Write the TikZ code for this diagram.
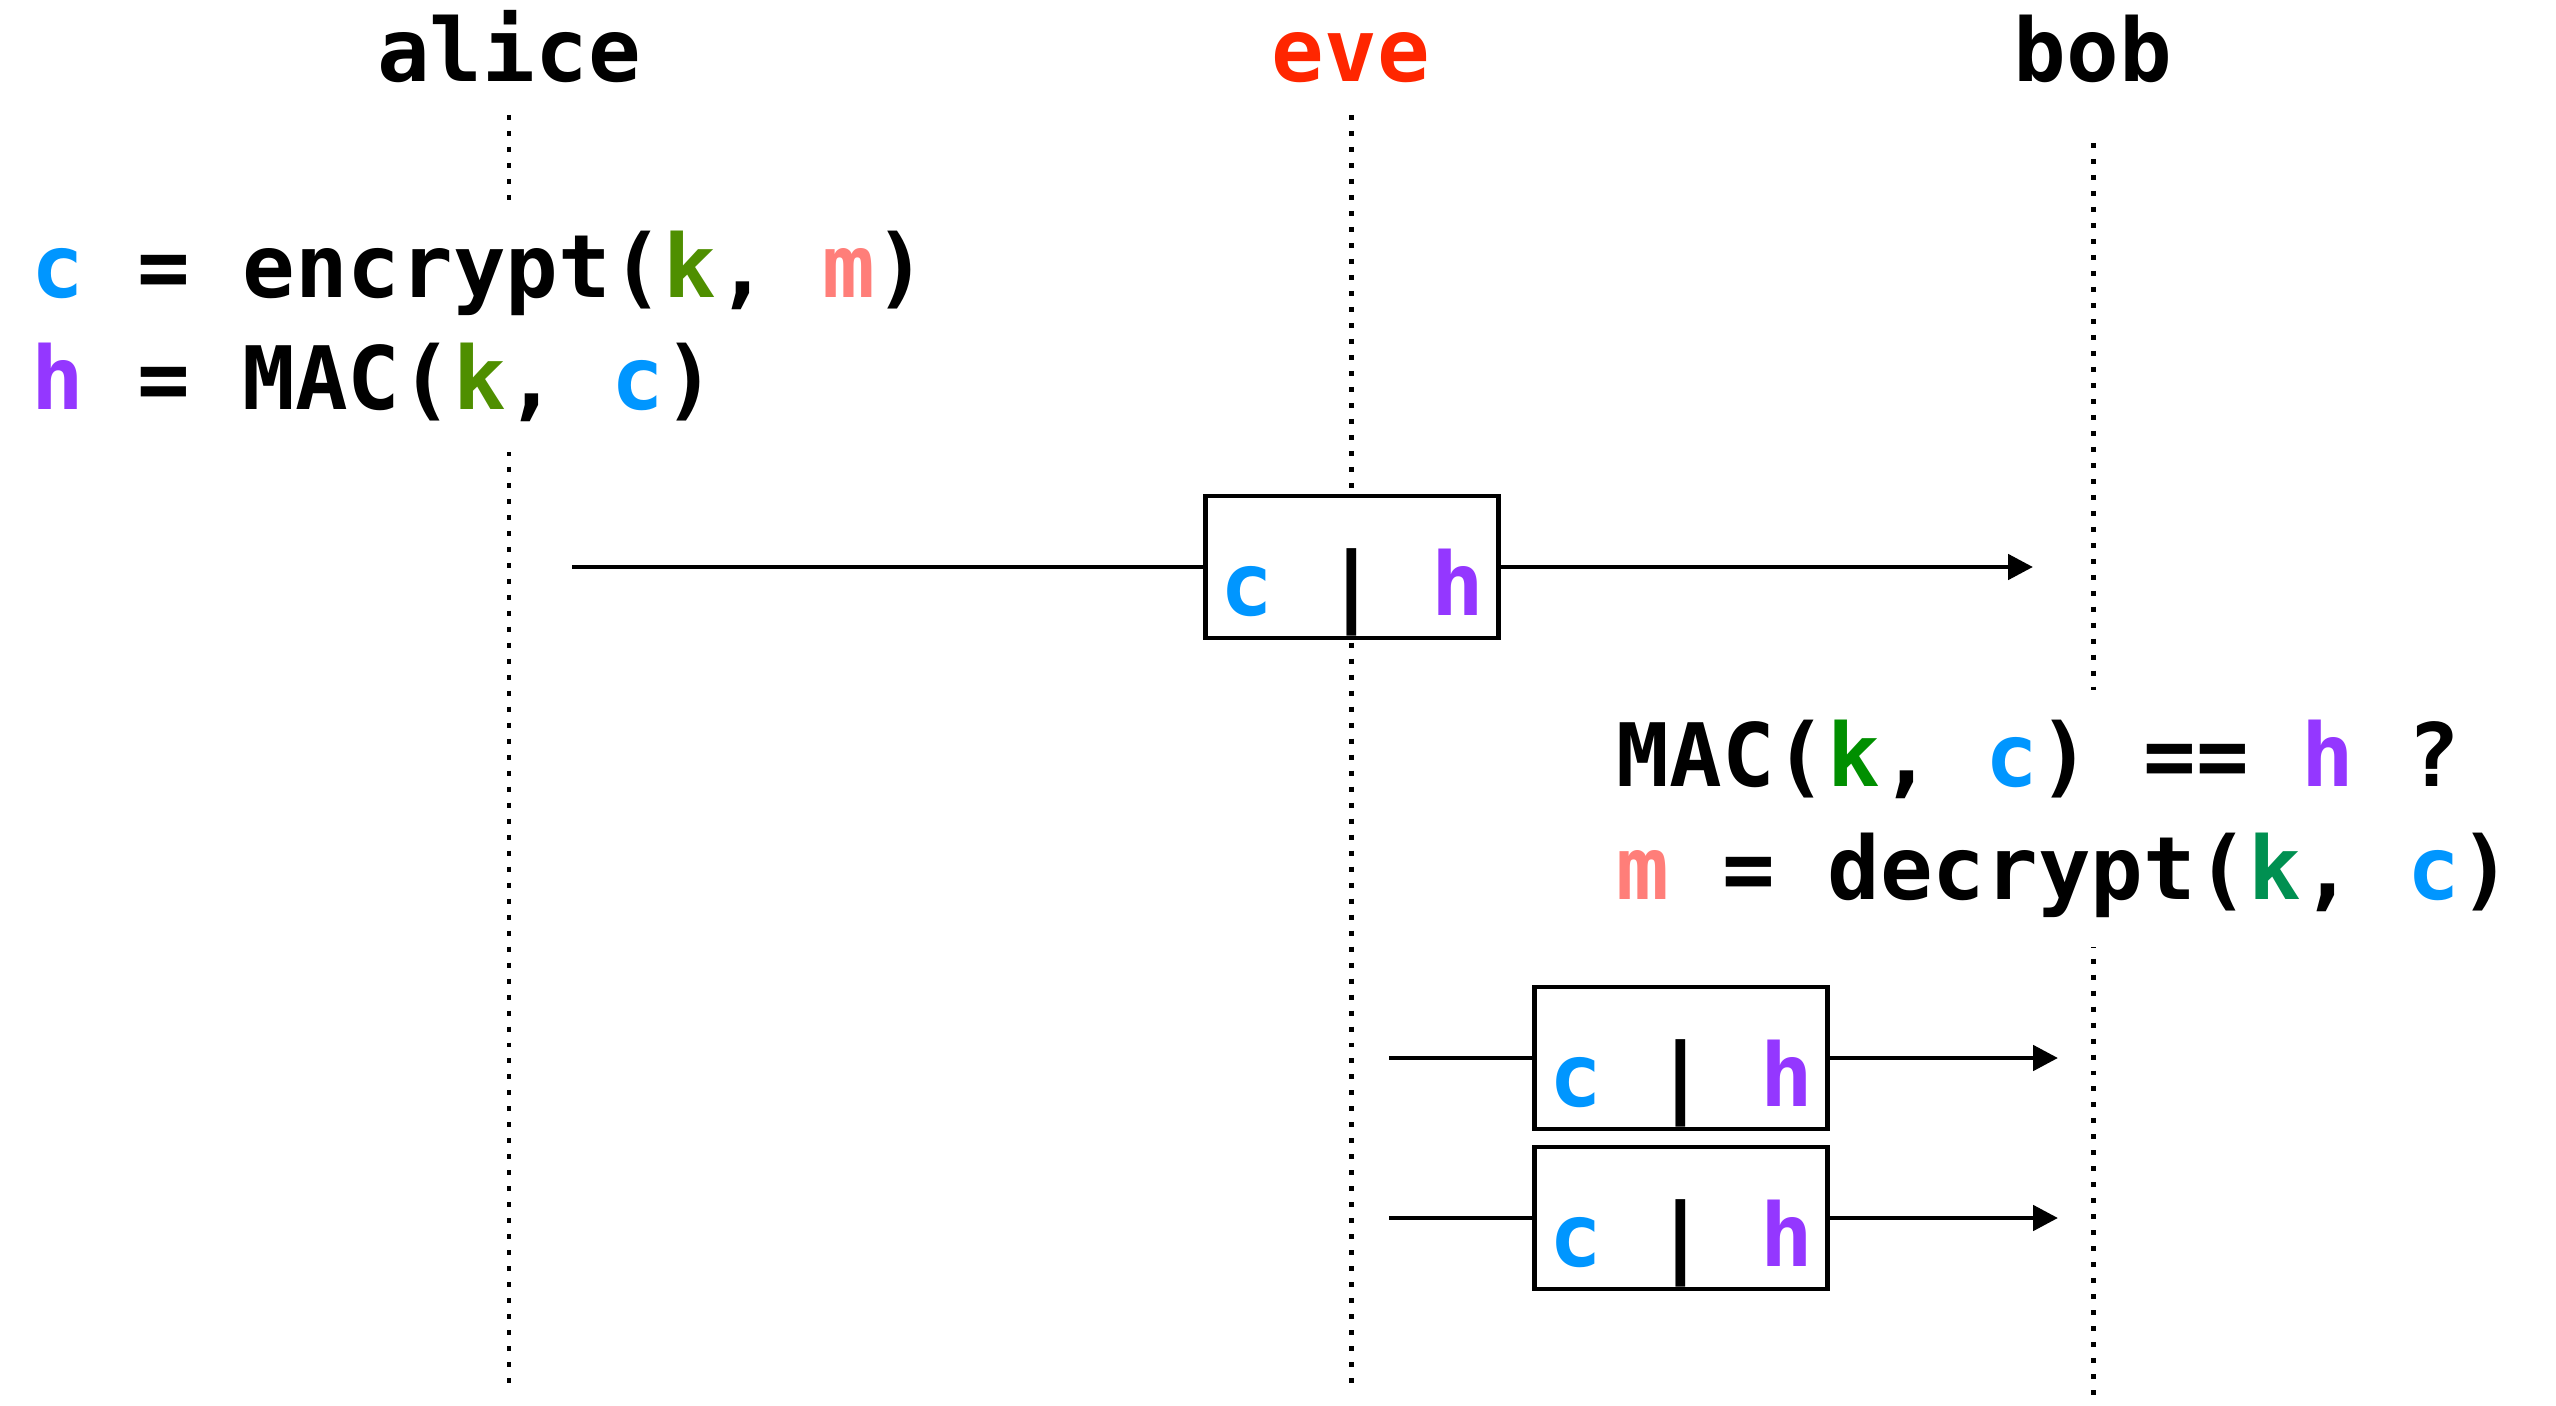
\documentclass[tikz,border=0pt]{standalone}
\usepackage{fontspec}
\setmainfont{DejaVu Sans Mono}[WordSpace={1,0,0}]
\usetikzlibrary{arrows.meta}
\frenchspacing

\definecolor{aqua}{RGB}{0,150,255}
\definecolor{grape}{RGB}{148,55,255}
\definecolor{fern}{RGB}{79,143,0}
\definecolor{clover}{RGB}{0,143,0}
\definecolor{moss}{RGB}{0,144,81}
\definecolor{salmon}{RGB}{255,126,121}
\definecolor{maraschino}{RGB}{255,38,0}

\newcommand{\cvar}{\textcolor{aqua}{c}}
\newcommand{\hvar}{\textcolor{grape}{h}}

\tikzset{
  party/.style={anchor=base},
  lifeline/.style={line width=1.42pt, dash pattern=on 1.42pt off 3.13pt},
  msg/.style={line width=1.42pt},
  packet/.style={draw, line width=1.42pt, fill=white, inner sep=0pt,
    minimum width=2.93cm, text height=1.195cm, text depth=0.225cm},
  code/.style={align=left, fill=white, inner xsep=0pt, inner ysep=0.3cm,
    anchor=base west},
}

\begin{document}
\begin{tikzpicture}[x=1cm, y=-1cm, font=\fontsize{24.9}{32}\selectfont\bfseries]
  \useasboundingbox (0,0) rectangle (25.56,14.06);

  % parties
  \node[party] (alice) at (5.09,0.82) {alice};
  \node[party, text=maraschino] (eve) at (13.51,0.82) {eve};
  \node[party] (bob) at (20.93,0.82) {bob};

  % lifelines
  \coordinate (alice top) at (5.09,1.15);
  \coordinate (alice end) at (5.09,13.85);
  \coordinate (eve top) at (13.51,1.15);
  \coordinate (eve end) at (13.51,13.85);
  \coordinate (bob top) at (20.93,1.43);
  \coordinate (bob end) at (20.93,14.03);
  \begin{scope}[lifeline]
    \draw (alice top) -- (alice end);
    \draw (eve top) -- (eve end);
    \draw (bob top) -- (bob end);
  \end{scope}

  % what each side computes (base = last line)
  \node[code] (send) at (0.31,4.10)
    {\cvar{} = encrypt(\textcolor{fern}{k}, \textcolor{salmon}{m})\\
     \hvar{} = MAC(\textcolor{fern}{k}, \cvar)};
  \node[code] (check) at (16.16,8.99)
    {MAC(\textcolor{clover}{k}, \cvar) == \hvar{} ?\\
     \textcolor{salmon}{m} = decrypt(\textcolor{moss}{k}, \cvar)};

  % messages
  \node[packet] (pkt1) at (13.52,5.67) {\cvar{} | \hvar};
  \node[packet] (pkt2) at (16.81,10.58) {\cvar{} | \hvar};
  \node[packet] (pkt3) at (16.81,12.18) {\cvar{} | \hvar};
  \coordinate (from1) at (5.72,5.67);
  \coordinate (to1) at (20.33,5.67);
  \coordinate (from2) at (13.89,10.58);
  \coordinate (to2) at (20.58,10.58);
  \coordinate (from3) at (13.89,12.18);
  \coordinate (to3) at (20.58,12.18);
  \begin{scope}[msg]
    \draw (from1) -- (pkt1);
    \draw[-{Triangle[length=0.25cm,width=0.25cm]}] (pkt1) -- (to1);
    \draw (from2) -- (pkt2);
    \draw[-{Triangle[length=0.25cm,width=0.25cm]}] (pkt2) -- (to2);
    \draw (from3) -- (pkt3);
    \draw[-{Triangle[length=0.25cm,width=0.25cm]}] (pkt3) -- (to3);
  \end{scope}
\end{tikzpicture}
\end{document}
